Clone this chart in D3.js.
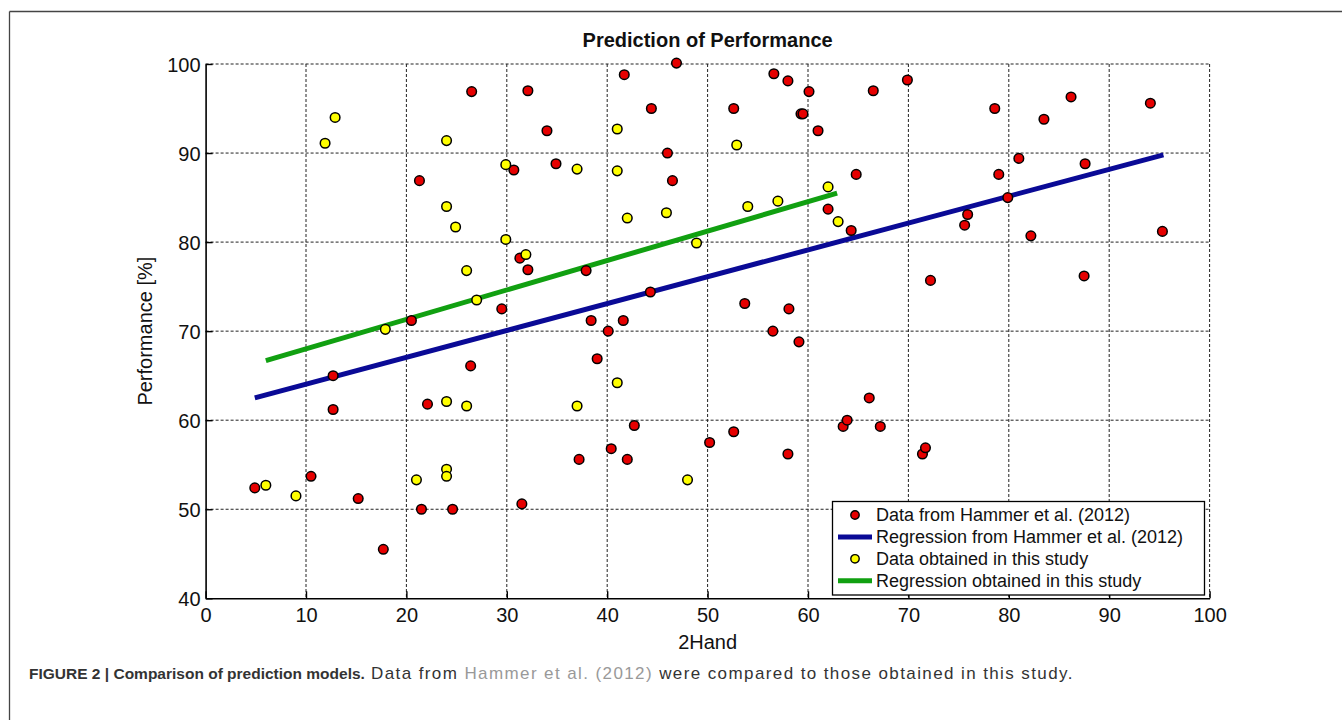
<!DOCTYPE html>
<html>
<head>
<meta charset="utf-8">
<script src="https://cdn.jsdelivr.net/npm/d3@7"></script>
<style>
  body { margin: 0; background: #fff; }
  svg { display: block; font-family: "Liberation Sans", Arial, sans-serif; }
</style>
</head>
<body>
<svg id="chart" width="1342" height="720"></svg>
<script>
// data: [2Hand, Performance %]
const hammerData = [
  [4.9,52.4],[10.5,53.7],[12.7,61.2],[12.7,65.0],[15.2,51.2],[17.7,45.5],[21.3,86.9],[20.5,71.2],
  [21.5,50.0],[22.1,61.8],[24.6,50.0],[26.5,96.9],[26.4,66.1],[29.5,72.5],[30.7,88.1],[31.3,78.2],
  [31.5,50.6],[32.1,97.0],[32.1,76.9],[34.0,92.5],[34.9,88.8],[37.2,55.6],[37.9,76.8],[38.4,71.2],
  [39.0,66.9],[40.1,70.0],[40.4,56.8],[41.6,71.2],[41.7,98.8],[42.0,55.6],[42.7,59.4],[44.4,95.0],
  [44.3,74.4],[46.0,90.0],[46.5,86.9],[46.9,100.1],[50.2,57.5],[52.6,95.0],[52.6,58.7],[53.7,73.1],
  [56.6,98.9],[56.5,70.0],[58.0,98.1],[58.1,72.5],[58.0,56.2],[59.1,68.8],[59.3,94.4],[59.5,94.4],
  [60.1,96.9],[61.0,92.5],[62.0,83.7],[63.5,59.3],[63.9,60.0],[64.3,81.3],[64.8,87.6],[66.1,62.5],
  [66.5,97.0],[67.2,59.3],[69.9,98.2],[71.4,56.2],[71.7,56.9],[72.2,75.7],[75.6,81.9],[75.9,83.1],
  [78.6,95.0],[79.0,87.6],[79.9,85.0],[81.0,89.4],[82.2,80.7],[83.5,93.8],[86.2,96.3],[87.5,76.2],
  [87.6,88.8],[94.1,95.6],[95.3,81.2]
];
const studyData = [
  [6.0,52.7],[9.0,51.5],[11.9,91.1],[12.9,94.0],[17.9,70.2],[21.0,53.3],[24.0,91.4],[24.0,84.0],
  [24.9,81.7],[24.0,62.1],[24.0,54.5],[24.0,53.7],[26.0,61.6],[26.0,76.8],[27.0,73.5],[29.9,88.7],
  [29.9,80.3],[31.9,78.6],[37.0,88.2],[37.0,61.6],[41.0,92.7],[41.0,88.0],[41.0,64.2],[42.0,82.7],
  [45.9,83.3],[48.0,53.3],[48.9,79.9],[52.9,90.9],[54.0,84.0],[57.0,84.6],[62.0,86.2],[63.0,82.3]
];
const hammerFit = [[4.9,62.5],[95.4,89.8]];
const studyFit = [[6.0,66.7],[62.9,85.5]];
const xTicks = [0,10,20,30,40,50,60,70,80,90,100];
const yTicks = [40,50,60,70,80,90,100];
const legendLabels = [
  "Data from Hammer et al. (2012)",
  "Regression from Hammer et al. (2012)",
  "Data obtained in this study",
  "Regression obtained in this study"
];

const RED = "#e60000", YELLOW = "#ffff00", BLUE = "#0a0a96", GREEN = "#11a011";

const svg = d3.select("#chart");

// outer figure frame (top and left edges only)
svg.append("line").attr("x1", 9.5).attr("x2", 1342).attr("y1", 11.5).attr("y2", 11.5).attr("stroke", "#444").attr("stroke-width", 1.3);
svg.append("line").attr("x1", 9.5).attr("x2", 9.5).attr("y1", 11.5).attr("y2", 720).attr("stroke", "#444").attr("stroke-width", 1.3);

const pLeft = 205.6, pRight = 1209.6, pTop = 64, pBottom = 598.3;
const x = d3.scaleLinear().domain([0, 100]).range([pLeft, pRight]);
const y = d3.scaleLinear().domain([40, 100]).range([pBottom, pTop]);

// grid
const grid = svg.append("g").attr("stroke", "#222").attr("stroke-width", 1).attr("stroke-dasharray", "3,2");
grid.selectAll(".gx").data(xTicks.slice(1)).enter().append("line")
  .attr("x1", d => x(d)).attr("x2", d => x(d)).attr("y1", pTop).attr("y2", pBottom);
grid.selectAll(".gy").data(yTicks.slice(1)).enter().append("line")
  .attr("x1", pLeft).attr("x2", pRight).attr("y1", d => y(d)).attr("y2", d => y(d));

// axes with inward ticks
const xAxis = svg.append("g").attr("transform", `translate(0,${pBottom})`)
  .call(d3.axisBottom(x).tickValues(xTicks).tickSizeInner(-7).tickSizeOuter(0).tickPadding(13));
const yAxis = svg.append("g").attr("transform", `translate(${pLeft},0)`)
  .call(d3.axisLeft(y).tickValues(yTicks).tickSizeInner(-7).tickSizeOuter(0).tickPadding(5));
[xAxis, yAxis].forEach(a => {
  a.select(".domain").attr("stroke", "#000").attr("stroke-width", 1.6);
  a.selectAll(".tick line").attr("stroke", "#000").attr("stroke-width", 1.4);
  a.selectAll("text").attr("font-size", 20).attr("fill", "#111").attr("font-family", "Liberation Sans, Arial, sans-serif");
});
xAxis.selectAll(".tick text").attr("dy", "0.55em");
yAxis.selectAll(".tick text").attr("dy", "0.36em");

// title and axis labels
svg.append("text").attr("x", (pLeft + pRight) / 2).attr("y", 47).attr("text-anchor", "middle")
  .attr("font-size", 20).attr("font-weight", "bold").attr("fill", "#111").text("Prediction of Performance");
svg.append("text").attr("x", (pLeft + pRight) / 2).attr("y", 649).attr("text-anchor", "middle")
  .attr("font-size", 20).attr("fill", "#111").text("2Hand");
svg.append("text").attr("transform", `translate(152,${(pTop + pBottom) / 2}) rotate(-90)`).attr("text-anchor", "middle")
  .attr("font-size", 20).attr("fill", "#111").text("Performance [%]");

// regression lines
const line = d3.line().x(d => x(d[0])).y(d => y(d[1]));
svg.append("path").datum(hammerFit).attr("d", line).attr("stroke", BLUE).attr("stroke-width", 5).attr("fill", "none");
svg.append("path").datum(studyFit).attr("d", line).attr("stroke", GREEN).attr("stroke-width", 5).attr("fill", "none");

// points
const drawPoints = (data, color) => svg.append("g").selectAll("circle").data(data).enter().append("circle")
  .attr("cx", d => x(d[0])).attr("cy", d => y(d[1])).attr("r", 4.8)
  .attr("fill", color).attr("stroke", "#000").attr("stroke-width", 1.5);
drawPoints(hammerData, RED);
drawPoints(studyData, YELLOW);

// legend
const lg = svg.append("g");
lg.append("rect").attr("x", 832.5).attr("y", 501.5).attr("width", 372).attr("height", 93.5)
  .attr("fill", "#fff").attr("stroke", "#000").attr("stroke-width", 1.3);
const rows = lg.selectAll("g.row").data(legendLabels).enter().append("g")
  .attr("transform", (d, i) => `translate(0,${515 + i * 21.9})`);
rows.each(function (d, i) {
  const g = d3.select(this);
  if (i % 2 === 0) {
    g.append("circle").attr("cx", 855).attr("cy", 0).attr("r", 4.2)
      .attr("fill", i === 0 ? RED : YELLOW).attr("stroke", "#000").attr("stroke-width", 1.4);
  } else {
    g.append("line").attr("x1", 838).attr("x2", 872).attr("y1", 0).attr("y2", 0)
      .attr("stroke", i === 1 ? BLUE : GREEN).attr("stroke-width", 5);
  }
});
rows.append("text").attr("x", 876).attr("y", 0).attr("dy", "0.36em")
  .attr("font-size", 18).attr("fill", "#111").text(d => d);

// caption
const cap = svg.append("text").attr("x", 29).attr("y", 679).attr("font-size", 15.5).attr("fill", "#333");
cap.append("tspan").attr("font-weight", "bold").text("FIGURE 2 | Comparison of prediction models.");
const capRest = cap.append("tspan").attr("font-size", 17).attr("letter-spacing", 1.4);
capRest.append("tspan").text(" Data from ");
capRest.append("tspan").attr("fill", "#999").text("Hammer et al. (2012)");
capRest.append("tspan").text(" were compared to those obtained in this study.");
</script>
</body>
</html>
